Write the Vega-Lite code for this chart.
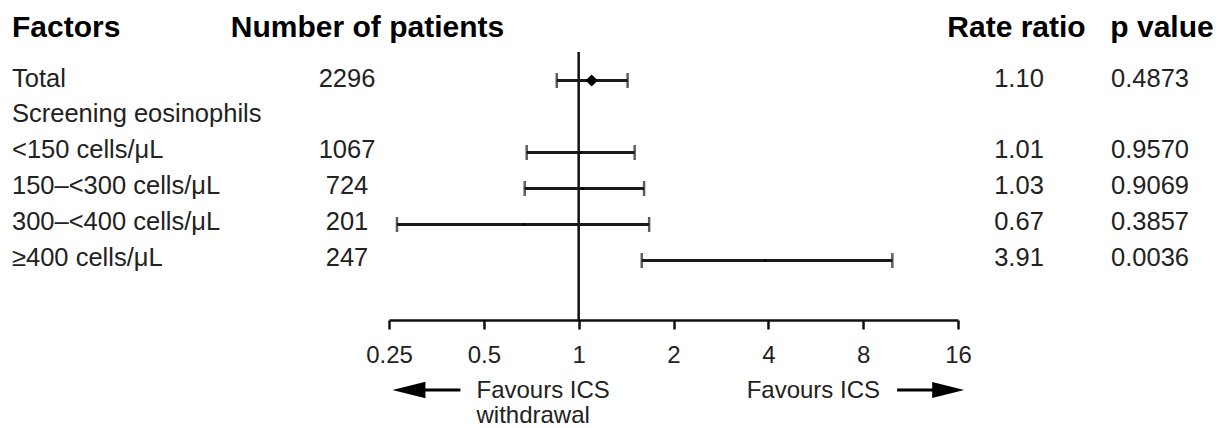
{
  "$schema": "https://vega.github.io/schema/vega-lite/v6.json",
  "padding": {"left": 12, "top": 13, "right": 0, "bottom": 0},
  "bounds": "flush",
  "spacing": 0,
  "resolve": {"scale": {"x": "independent", "y": "independent"}},
  "config": {
    "font": "Liberation Sans",
    "view": {"stroke": null},
    "title": {"font": "Liberation Sans", "fontSize": 30, "fontWeight": "bold", "color": "#000", "baseline": "alphabetic", "offset": 9, "frame": "group"},
    "text": {"font": "Liberation Sans", "fontSize": 25.5, "color": "#222", "baseline": "alphabetic", "dy": 6},
    "axis": {"labelFont": "Liberation Sans"}
  },
  "data": {
    "values": [
      {"row": 1, "factor": "Total", "n": 2296, "rr": 1.10, "lo": 0.852, "hi": 1.43, "p": 0.4873, "kind": "total"},
      {"row": 2, "factor": "Screening eosinophils"},
      {"row": 3, "factor": "<150 cells/μL", "n": 1067, "rr": 1.01, "lo": 0.684, "hi": 1.506, "p": 0.9570, "kind": "sub"},
      {"row": 4, "factor": "150–<300 cells/μL", "n": 724, "rr": 1.03, "lo": 0.674, "hi": 1.613, "p": 0.9069, "kind": "sub"},
      {"row": 5, "factor": "300–<400 cells/μL", "n": 201, "rr": 0.67, "lo": 0.265, "hi": 1.674, "p": 0.3857, "kind": "sub"},
      {"row": 6, "factor": "≥400 cells/μL", "n": 247, "rr": 3.91, "lo": 1.586, "hi": 9.9, "p": 0.0036, "kind": "sub"}
    ]
  },
  "hconcat": [
    {
      "width": 293, "height": 268,
      "title": {"text": "Factors", "anchor": "start"},
      "mark": {"type": "text", "align": "left"},
      "encoding": {
        "x": {"datum": 0, "type": "quantitative", "scale": {"domain": [0, 1]}, "axis": null},
        "y": {"field": "row", "type": "quantitative", "scale": {"domain": [0.2083, 7.653], "reverse": true, "nice": false, "zero": false}, "axis": null},
        "text": {"field": "factor"}
      }
    },
    {
      "width": 84, "height": 268,
      "title": {"text": "Number of patients", "anchor": "middle", "dx": 20.5},
      "transform": [{"filter": "isValid(datum.n)"}],
      "mark": {"type": "text", "align": "center"},
      "encoding": {
        "x": {"datum": 0.5, "type": "quantitative", "scale": {"domain": [0, 1]}, "axis": null},
        "y": {"field": "row", "type": "quantitative", "scale": {"domain": [0.2083, 7.653], "reverse": true, "nice": false, "zero": false}, "axis": null},
        "text": {"field": "n", "type": "quantitative", "format": "d"}
      }
    },
    {
      "width": 569, "height": 268,
      "encoding": {
        "x": {"type": "quantitative", "scale": {"type": "log", "base": 2, "domain": [0.25, 16], "nice": false},
          "axis": {"values": [0.25, 0.5, 1, 2, 4, 8, 16], "format": "~g", "title": null, "grid": false,
            "labelFlush": false, "labelOverlap": false, "labelFontSize": 24, "labelColor": "#222",
            "tickSize": 9, "tickWidth": 2.5, "tickColor": "#111", "domainWidth": 2.5, "domainColor": "#111", "labelPadding": 14}},
        "y": {"type": "quantitative", "scale": {"domain": [0.2083, 7.653], "reverse": true, "nice": false, "zero": false}, "axis": null}
      },
      "layer": [
        {
          "data": {"values": [{}]},
          "mark": {"type": "rule", "color": "#111", "strokeWidth": 2.5},
          "encoding": {"x": {"datum": 1}}
        },
        {
          "transform": [{"filter": "isValid(datum.lo)"}],
          "mark": {"type": "rule", "color": "#1a1a1a", "strokeWidth": 2.8},
          "encoding": {"x": {"field": "lo"}, "x2": {"field": "hi"}, "y": {"field": "row"}}
        },
        {
          "transform": [{"filter": "isValid(datum.lo)"}],
          "mark": {"type": "tick", "orient": "vertical", "color": "#1a1a1a", "size": 15, "thickness": 2.5},
          "encoding": {"x": {"field": "lo"}, "y": {"field": "row"}}
        },
        {
          "transform": [{"filter": "isValid(datum.hi)"}],
          "mark": {"type": "tick", "orient": "vertical", "color": "#1a1a1a", "size": 15, "thickness": 2.5},
          "encoding": {"x": {"field": "hi"}, "y": {"field": "row"}}
        },
        {
          "transform": [{"filter": "datum.kind === 'total'"}],
          "mark": {"type": "point", "shape": "diamond", "filled": true, "color": "#000", "size": 150, "opacity": 1},
          "encoding": {"x": {"field": "rr"}, "y": {"field": "row"}}
        },
        {
          "transform": [{"filter": "datum.kind === 'sub'"}],
          "mark": {"type": "point", "shape": "square", "filled": true, "color": "#000", "size": 6, "opacity": 1},
          "encoding": {"x": {"field": "rr"}, "y": {"field": "row"}}
        },
        {
          "data": {"values": [{}]},
          "mark": {"type": "rule", "color": "#000", "strokeWidth": 3},
          "encoding": {"x": {"datum": 0.2892}, "x2": {"datum": 0.4214}, "y": {"datum": 9.597}}
        },
        {
          "data": {"values": [{}]},
          "mark": {"type": "point", "shape": "M-1,0L1,-0.5L1,0.5Z", "filled": true, "color": "#000", "size": 1089, "opacity": 1},
          "encoding": {"x": {"datum": 0.2892}, "y": {"datum": 9.597}}
        },
        {
          "data": {"values": [{}]},
          "mark": {"type": "rule", "color": "#000", "strokeWidth": 3},
          "encoding": {"x": {"datum": 10.25}, "x2": {"datum": 14.89}, "y": {"datum": 9.597}}
        },
        {
          "data": {"values": [{}]},
          "mark": {"type": "point", "shape": "M1,0L-1,-0.5L-1,0.5Z", "filled": true, "color": "#000", "size": 1024, "opacity": 1},
          "encoding": {"x": {"datum": 14.89}, "y": {"datum": 9.597}}
        },
        {
          "data": {"values": [{}]},
          "mark": {"type": "text", "align": "left", "dy": 0, "fontSize": 24, "lineBreak": "\n", "lineHeight": 25, "text": "Favours ICS\nwithdrawal"},
          "encoding": {"x": {"datum": 0.4738}, "y": {"datum": 9.819}}
        },
        {
          "data": {"values": [{}]},
          "mark": {"type": "text", "align": "right", "dy": 0, "fontSize": 24, "text": "Favours ICS"},
          "encoding": {"x": {"datum": 9.05}, "y": {"datum": 9.819}}
        }
      ]
    },
    {
      "width": 122, "height": 268,
      "title": {"text": "Rate ratio", "anchor": "middle", "dx": -2.5},
      "transform": [{"filter": "isValid(datum.rr)"}],
      "mark": {"type": "text", "align": "center"},
      "encoding": {
        "x": {"datum": 0.5, "type": "quantitative", "scale": {"domain": [0, 1]}, "axis": null},
        "y": {"field": "row", "type": "quantitative", "scale": {"domain": [0.2083, 7.653], "reverse": true, "nice": false, "zero": false}, "axis": null},
        "text": {"field": "rr", "type": "quantitative", "format": ".2f"}
      }
    },
    {
      "width": 140, "height": 268,
      "title": {"text": "p value", "anchor": "middle", "dx": 12},
      "transform": [{"filter": "isValid(datum.p)"}],
      "mark": {"type": "text", "align": "center"},
      "encoding": {
        "x": {"datum": 0.5, "type": "quantitative", "scale": {"domain": [0, 1]}, "axis": null},
        "y": {"field": "row", "type": "quantitative", "scale": {"domain": [0.2083, 7.653], "reverse": true, "nice": false, "zero": false}, "axis": null},
        "text": {"field": "p", "type": "quantitative", "format": ".4f"}
      }
    }
  ]
}
